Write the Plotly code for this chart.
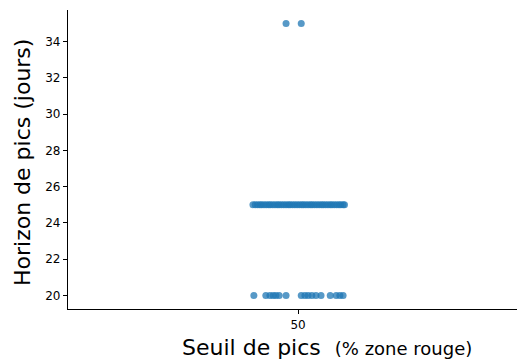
import plotly.graph_objects as go

category_label = "50"
category_pos = 0

# Jittered x offsets (data units) and y values
offsets_35 = [-0.026, 0.007]
offsets_25 = [-0.098, -0.093, -0.088, -0.083, -0.079, -0.074, -0.069, -0.064, -0.060, -0.055,
              -0.050, -0.045, -0.041, -0.036, -0.031, -0.026, -0.021, -0.017, -0.012, -0.007,
              -0.002, 0.003, 0.008, 0.012, 0.017, 0.022, 0.027, 0.031, 0.036, 0.041,
              0.046, 0.051, 0.055, 0.060, 0.065, 0.070, 0.074, 0.079, 0.084, 0.089,
              0.093, 0.098, 0.101]
offsets_20 = [-0.096, -0.070, -0.061, -0.054, -0.048, -0.041, -0.026, 0.007, 0.015, 0.022,
              0.030, 0.039, 0.050, 0.070, 0.083, 0.091, 0.098]

y_ticks = [20, 22, 24, 26, 28, 30, 32, 34]

xs = [category_pos + o for o in offsets_35 + offsets_25 + offsets_20]
ys = [35] * len(offsets_35) + [25] * len(offsets_25) + [20] * len(offsets_20)

fig = go.Figure()
fig.add_trace(go.Scatter(
    x=xs, y=ys, mode="markers",
    marker=dict(color="#1f77b4", size=7, opacity=0.75, line=dict(width=0)),
    showlegend=False, hoverinfo="skip", cliponaxis=False,
))

font = "DejaVu Sans, sans-serif"
fig.update_layout(
    width=518, height=362,
    margin=dict(l=68, r=1, t=10, b=53, autoexpand=False),
    plot_bgcolor="white", paper_bgcolor="white",
    font=dict(family=font, color="black", size=12),
    xaxis=dict(
        range=[-0.5, 0.476], tickmode="array", tickvals=[category_pos], ticktext=[category_label],
        showline=True, linecolor="black", linewidth=1.3, ticks="outside", ticklen=4,
        tickwidth=1, tickcolor="black", showgrid=False, zeroline=False, automargin=False,
        tickfont=dict(size=12, family=font),
    ),
    yaxis=dict(
        range=[19.25, 35.75], tickmode="array", tickvals=y_ticks,
        showline=True, linecolor="black", linewidth=1.3, ticks="outside", ticklen=4,
        tickwidth=1, tickcolor="black", showgrid=False, zeroline=False, automargin=False,
        tickfont=dict(size=12, family=font),
    ),
)
fig.add_annotation(
    text="Horizon de pics (jours)",
    xref="paper", yref="paper", x=(22 - 68) / 449, y=(309 - 163) / 299,
    xanchor="center", yanchor="middle", textangle=-90, showarrow=False,
    font=dict(size=22, family=font, color="black"),
)
fig.add_annotation(
    text="Seuil de pics  <span style='font-size:18px'>(% zone rouge)</span>",
    xref="paper", yref="paper", x=(326.5 - 68) / 449, y=(309 - 347) / 299,
    xanchor="center", yanchor="middle", showarrow=False,
    font=dict(size=22, family=font, color="black"),
)
fig.write_html(
    "out.html",
    config={"displayModeBar": False},
    post_script="document.body.style.margin='0';document.body.style.overflow='hidden';",
)
